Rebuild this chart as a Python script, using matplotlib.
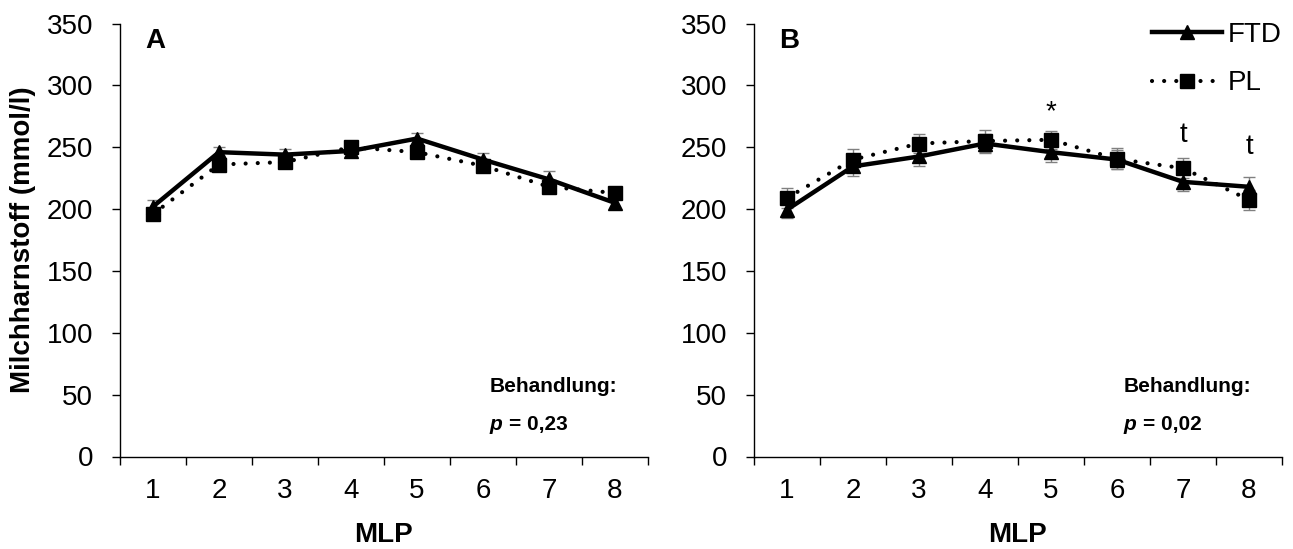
import numpy as np
import matplotlib
matplotlib.use('Agg')
import matplotlib.pyplot as plt

plt.rcParams['font.family'] = ['Liberation Sans', 'DejaVu Sans']

mlp = [1, 2, 3, 4, 5, 6, 7, 8]

# panel A
ftd_a = [202, 246, 244, 247, 257, 240, 224, 205]
ftd_a_se = [5.5, 4.5, 4.5, 5, 4.5, 5.5, 6.5, 5]
pl_a = [196, 236, 238, 250, 246, 235, 218, 213]
pl_a_se = [5, 5, 5, 5, 5, 5, 5, 5]

# panel B
ftd_b = [199.5, 234.5, 242.5, 253, 246, 240, 222, 218]
ftd_b_se = [7, 8, 8, 8, 8, 8, 7, 8]
pl_b = [209, 240, 253, 255, 256, 240.5, 233, 207.5]
pl_b_se = [8, 8.5, 8, 9, 7.5, 8.5, 8, 8]

p_a = '0,23'
p_b = '0,02'
marks_b = [(5, 273, '*'), (7, 254.5, 't'), (8, 244.5, 't')]

W, H = 1293, 549


def draw_panel(ax, ftd, ftd_se, pl, pl_se, letter, pval):
    ax.errorbar(mlp, ftd, yerr=ftd_se, fmt='none', ecolor='#808080',
                elinewidth=1, capsize=4, capthick=1, zorder=1)
    ax.errorbar(mlp, pl, yerr=pl_se, fmt='none', ecolor='#808080',
                elinewidth=1, capsize=4, capthick=1, zorder=1)
    l1, = ax.plot(mlp, ftd, color='black', lw=3.2, marker='^', ms=10,
                  label='FTD', zorder=3)
    l2, = ax.plot(mlp, pl, color='black', lw=3, linestyle=(0, (0.01, 2.9)),
                  dash_capstyle='round', marker='s', ms=10.5,
                  label='PL', zorder=4)

    ax.set_xlim(0.5, 8.5)
    ax.set_ylim(0, 350)
    ax.set_yticks(np.arange(0, 351, 50))
    ax.set_xticks(np.arange(0.5, 9, 1))
    ax.set_xticklabels([])
    ax.set_xticks(mlp, minor=True)
    ax.set_xticklabels([str(m) for m in mlp], minor=True, fontsize=20)
    ax.tick_params(axis='x', which='major', length=5.8, width=1, direction='out')
    ax.tick_params(axis='x', which='minor', length=0, pad=15.5)
    ax.tick_params(axis='y', length=5.8, width=1, direction='out',
                   labelsize=20, pad=13.5)
    for s in ['top', 'right']:
        ax.spines[s].set_visible(False)
    for s in ['left', 'bottom']:
        ax.spines[s].set_linewidth(1)

    ax.text(0.88, 330.5, letter, fontsize=20, fontweight='bold',
            ha='left', va='baseline')
    ax.text(0.5, -0.1975, 'MLP', transform=ax.transAxes, fontsize=20,
            fontweight='bold', ha='center', va='baseline')
    ax.text(6.1, 52.2, 'Behandlung:', fontsize=15, fontweight='bold',
            ha='left', va='baseline')
    ax.text(6.1, 21.4, 'p', fontsize=15, fontweight='bold',
            fontstyle='italic', ha='left', va='baseline')
    ax.annotate('= ' + pval, xy=(6.1, 21.4), xytext=(13.7, 0),
                textcoords='offset points', fontsize=15, fontweight='bold',
                ha='left', va='baseline')
    return l1, l2


fig = plt.figure(figsize=(W / 100, H / 100), dpi=100)
ax_a = fig.add_axes([120 / W, 1 - 456.5 / H, 528 / W, 433 / H])
ax_b = fig.add_axes([754 / W, 1 - 456.5 / H, 528 / W, 433 / H])

draw_panel(ax_a, ftd_a, ftd_a_se, pl_a, pl_a_se, 'A', p_a)
h1, h2 = draw_panel(ax_b, ftd_b, ftd_b_se, pl_b, pl_b_se, 'B', p_b)

for x, y, s in marks_b:
    ax_b.text(x, y, s, fontsize=20, ha='center', va='baseline')

ax_b.legend([h1, h2], ['FTD', 'PL'], loc='upper left',
            bbox_to_anchor=(1152 / W, 1 - 22 / H),
            bbox_transform=fig.transFigure, frameon=False, fontsize=20,
            handlelength=2.52, handletextpad=0.22, labelspacing=0.8,
            borderpad=0, borderaxespad=0, numpoints=1)

fig.text(23 / W, 1 - 240 / H, 'Milchharnstoff (mmol/l)', rotation=90,
         fontsize=20, fontweight='bold', ha='center', va='center')

fig.savefig('out.png', dpi=100)
